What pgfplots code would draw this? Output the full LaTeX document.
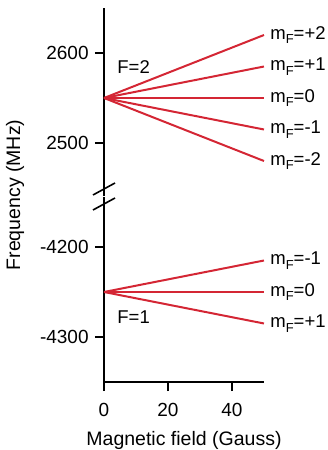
\documentclass[border=0pt]{standalone}
\usepackage{pgfplots}
\pgfplotsset{compat=1.18}
\usepackage{fontspec}
\setmainfont{Liberation Sans}
\definecolor{lred}{RGB}{212,38,52}
\newcommand{\mF}[1]{m\raisebox{-0.45ex}{\fontsize{13}{13}\selectfont F}=#1}
\begin{document}
\fontsize{18.5}{22}\selectfont
\begin{tikzpicture}
\pgfplotsset{
  every axis/.append style={
    scale only axis, width=160pt, xmin=0, xmax=50,
    /pgf/number format/assume math mode=true,
    /pgf/number format/1000 sep={},
    tick label style={font=\fontsize{19}{22}\selectfont},
    label style={font=\fontsize{19.5}{22}\selectfont},
    tick align=outside, major tick length=9pt,
    every tick/.style={black, line width=1.4pt},
    axis line style={black, line width=1.5pt},
    clip=false,
  },
}
% lower axis
\begin{axis}[
  at={(0,0)}, anchor=south west,
  height=185.5pt, ymin=-4350, ymax=-4143.9,
  axis x line*=bottom, axis y line*=left,
  xtick={0,20,40}, ytick={-4300,-4200},
  xticklabel style={yshift=-6pt},
  xlabel={Magnetic field (Gauss)},
  xlabel style={yshift=-2pt},
]
\addplot[lred, line width=2pt] coordinates {(0,-4250) (50,-4215)};
\addplot[lred, line width=2pt] coordinates {(0,-4250) (50,-4250)};
\addplot[lred, line width=2pt] coordinates {(0,-4250) (50,-4285)};
\node[anchor=west] at (axis cs:50,-4215) {\mF{-1}};
\node[anchor=west] at (axis cs:50,-4250) {\mF{0}};
\node[anchor=west] at (axis cs:50,-4285) {\mF{+1}};
\node[anchor=west] at (axis cs:2.2,-4278) {F=1};
\end{axis}
% upper axis
\begin{axis}[
  at={(0,185.5pt)}, anchor=south west,
  height=188.5pt, ymin=2440.56, ymax=2650,
  axis x line=none, axis y line*=left,
  ytick={2500,2600},
]
\addplot[lred, line width=2pt] coordinates {(0,2550) (50,2550)};
\addplot[lred, line width=2pt] coordinates {(0,2550) (50,2620)};
\addplot[lred, line width=2pt] coordinates {(0,2550) (50,2585)};
\addplot[lred, line width=2pt] coordinates {(0,2550) (50,2515)};
\addplot[lred, line width=2pt] coordinates {(0,2550) (50,2480)};
\node[anchor=west] at (axis cs:50,2620) {\mF{+2}};
\node[anchor=west] at (axis cs:50,2585) {\mF{+1}};
\node[anchor=west] at (axis cs:50,2550) {\mF{0}};
\node[anchor=west] at (axis cs:50,2515) {\mF{-1}};
\node[anchor=west] at (axis cs:50,2480) {\mF{-2}};
\node[anchor=west] at (axis cs:2.2,2584) {F=2};
\end{axis}
% y label and break marks
\node[rotate=90, font=\fontsize{19.5}{22}\selectfont] at (-89pt,187pt) {Frequency (MHz)};
\draw[black, line width=1.6pt] (-11pt,187pt) -- (11pt,199pt);
\draw[black, line width=1.6pt] (-11pt,172pt) -- (11pt,184pt);
\pgfresetboundingbox
\path[use as bounding box] (-104pt,-68pt) rectangle (224pt,382pt);
\end{tikzpicture}
\end{document}
